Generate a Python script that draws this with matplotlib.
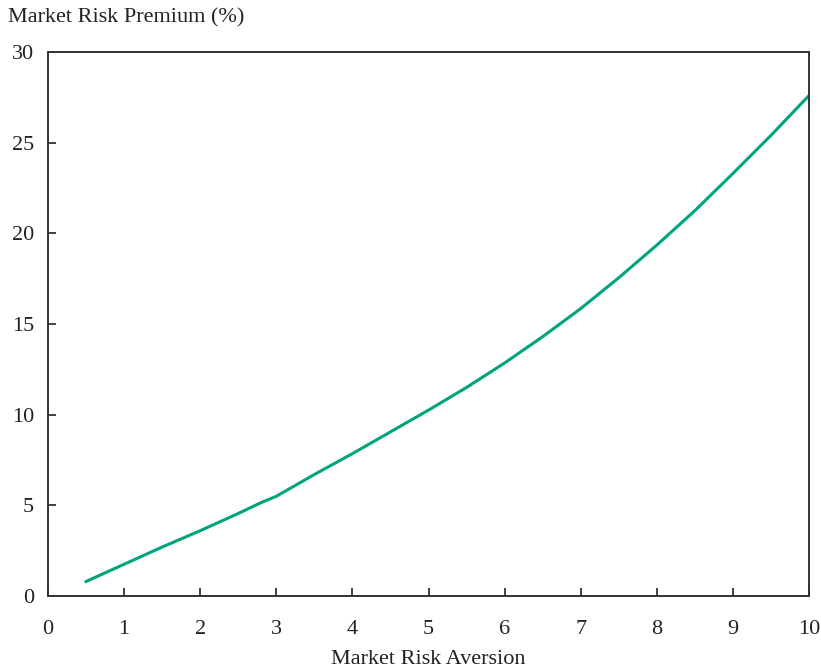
import matplotlib
matplotlib.use("Agg")
import matplotlib.pyplot as plt

# Market risk premium as a function of market risk aversion
risk_aversion = [0.5, 1.0, 1.5, 2.0, 2.5, 2.8, 3.0, 3.5, 4.0, 4.5, 5.0, 5.5, 6.0,
                 6.5, 7.0, 7.5, 8.0, 8.5, 9.0, 9.5, 10.0]
risk_premium = [0.8, 1.75, 2.7, 3.6, 4.55, 5.15, 5.5, 6.7, 7.85, 9.05, 10.25, 11.5, 12.85,
                14.3, 15.85, 17.55, 19.35, 21.25, 23.3, 25.4, 27.6]

x_ticks = list(range(0, 11))
y_ticks = [0, 5, 10, 15, 20, 25, 30]

plt.rcParams['font.family'] = ['Liberation Serif', 'DejaVu Serif']

fig = plt.figure(figsize=(8.21, 6.70), dpi=100)
ax = fig.add_axes([48 / 821, 74 / 670, 761 / 821, 544 / 670])

ax.plot(risk_aversion, risk_premium, color='#00a47c', linewidth=2.2)

ax.set_xlim(0, 10)
ax.set_ylim(0, 30)
ax.set_xticks(x_ticks)
ax.set_yticks(y_ticks)
ax.tick_params(direction='in', length=6, width=1.2, labelsize=16, colors='#222222')
ax.tick_params(axis='x', pad=17)
ax.tick_params(axis='y', pad=10)
for spine in ax.spines.values():
    spine.set_linewidth(1.4)
    spine.set_color('#333333')

ax.set_xlabel('Market Risk Aversion', fontsize=16, labelpad=8, color='#222222')
fig.text(8 / 821, 1 - 18 / 670, 'Market Risk Premium (%)', fontsize=16,
         color='#222222', ha='left', va='center')

fig.savefig('out.png', dpi=100)
